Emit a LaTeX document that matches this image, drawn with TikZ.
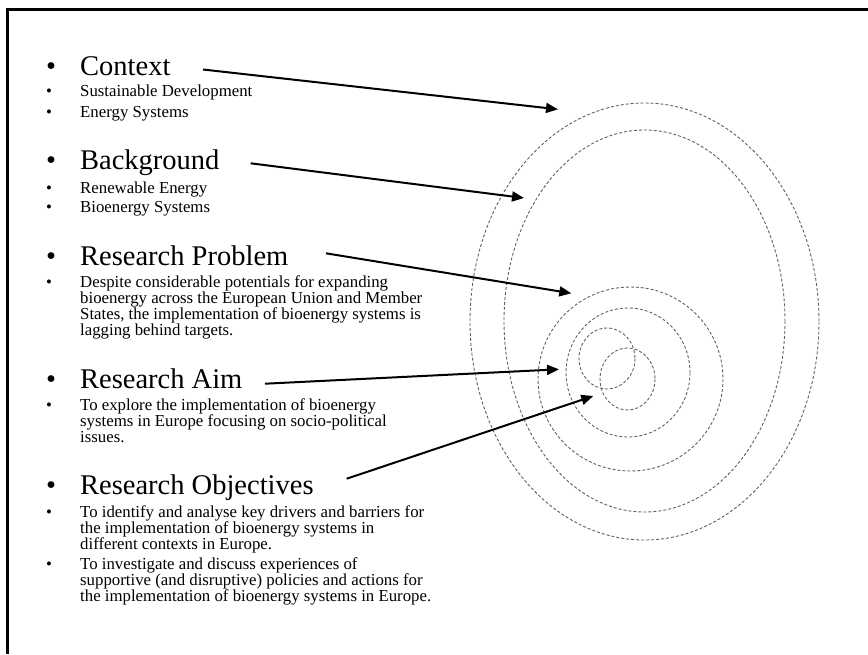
\documentclass[tikz,border=0pt]{standalone}
\usepackage{fontspec}
\setmainfont{Liberation Serif}
\usetikzlibrary{arrows.meta}
\newcommand\bul{\makebox[34pt][l]{•}}
\newcommand\btext[1]{\bul\parbox[t]{420pt}{#1}}
\begin{document}
\begin{tikzpicture}[x=1pt,y=-1pt,
  head/.style={anchor=base west, inner sep=0pt, font=\fontsize{28.5}{30}\selectfont},
  itemtext/.style={anchor=base west, inner sep=0pt, font=\fontsize{16.8}{16}\selectfont},
  ring/.style={draw=black!62, dash pattern=on 3pt off 2pt, line width=0.9pt},
  pointer/.style={-{Triangle[length=12pt,width=10pt]}, line width=2pt},
  frameline/.style={line width=2.6pt, line join=miter}]
\useasboundingbox (0,0) rectangle (868,654);
% frame
\draw[frameline] (7.5,654) -- (7.5,9.5) -- (868,9.5);
% rings
\draw[ring] (644.5,321.5) ellipse [x radius=174.5, y radius=218.5];
\draw[ring] (644.5,321) ellipse [x radius=140.5, y radius=191];
\draw[ring] (630.5,379) ellipse [x radius=92.5, y radius=92];
\draw[ring] (628,372.5) ellipse [x radius=62, y radius=64.5];
\draw[ring] (607,358.5) ellipse [x radius=28, y radius=30.5];
\draw[ring] (627.5,379) ellipse [x radius=27.5, y radius=31];
% texts
\node[head] (context) at (46,75) {\bul Context};
\node[itemtext] (sd) at (46,96.7) {\bul Sustainable Development};
\node[itemtext] (es) at (46,117) {\bul Energy Systems};
\node[head] (background) at (46,169) {\bul Background};
\node[itemtext] (re) at (46,193) {\bul Renewable Energy};
\node[itemtext] (bs) at (46,212.3) {\bul Bioenergy Systems};
\node[head] (problem) at (46,265) {\bul Research Problem};
\node[itemtext] (despite) at (46,287) {\btext{Despite considerable potentials for expanding\\
bioenergy across the European Union and Member\\
States, the implementation of bioenergy systems is\\
lagging behind targets.}};
\node[head] (aim) at (46,388) {\bul Research Aim};
\node[itemtext] (explore) at (46,410) {\btext{To explore the implementation of bioenergy\\
systems in Europe focusing on socio-political\\
issues.}};
\node[head] (objectives) at (46,494) {\bul Research Objectives};
\node[itemtext] (identify) at (46,517) {\btext{To identify and analyse key drivers and barriers for\\
the implementation of bioenergy systems in\\
different contexts in Europe.}};
\node[itemtext] (investigate) at (46,569) {\btext{To investigate and discuss experiences of\\
supportive (and disruptive) policies and actions for\\
the implementation of bioenergy systems in Europe.}};
% arrow ends
\coordinate (cA) at (203,69.5);   \coordinate (cB) at (558,109.3);
\coordinate (bA) at (250.7,163.3); \coordinate (bB) at (524,198);
\coordinate (pA) at (326,253.3);  \coordinate (pB) at (571.3,293.3);
\coordinate (aA) at (265,383.7);  \coordinate (aB) at (559,369.3);
\coordinate (oA) at (346.7,478.7); \coordinate (oB) at (593.3,396);
\draw[pointer] (cA) -- (cB);
\draw[pointer] (bA) -- (bB);
\draw[pointer] (pA) -- (pB);
\draw[pointer] (aA) -- (aB);
\draw[pointer] (oA) -- (oB);
\end{tikzpicture}
\end{document}
